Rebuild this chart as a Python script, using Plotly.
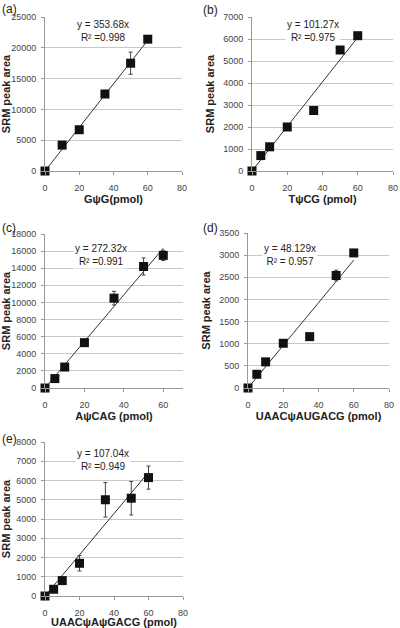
import plotly.graph_objects as go

# ---- data ----
panel_labels = ["(a)", "(b)", "(c)", "(d)", "(e)"]
x_titles = ["GψG(pmol)", "TψCG (pmol)", "AψCAG (pmol)", "UAACψAUGACG (pmol)", "UAACψAψGACG (pmol)"]
eq_texts = ["y = 353.68x<br>R² =0.998", "y = 101.27x<br>R² =0.975", "y = 272.32x<br>R² =0.991",
            "y = 48.129x<br>R² = 0.957", "y = 107.04x<br>R² =0.949"]
slopes = [353.68, 101.27, 272.32, 48.129, 107.04]

x_a = [0, 10, 20, 35, 50, 60]
y_a = [0, 4200, 6700, 12500, 17500, 21400]
e_a = [0, 0, 0, 0, 1800, 0]

x_b = [0, 5, 10, 20, 35, 50, 60]
y_b = [0, 700, 1100, 2000, 2750, 5500, 6150]
e_b = [0, 0, 0, 0, 0, 0, 0]

x_c = [0, 5, 10, 20, 35, 50, 60]
y_c = [0, 1100, 2450, 5300, 10500, 14200, 15500]
e_c = [0, 0, 0, 0, 800, 1000, 600]

x_d = [0, 5, 10, 20, 35, 50, 60]
y_d = [0, 310, 590, 1010, 1160, 2540, 3050]
e_d = [0, 0, 0, 0, 70, 120, 50]

x_e = [0, 5, 10, 20, 35, 50, 60]
y_e = [0, 350, 800, 1700, 5000, 5080, 6150]
e_e = [0, 0, 0, 400, 900, 870, 600]

xs = [x_a, x_b, x_c, x_d, x_e]
ys = [y_a, y_b, y_c, y_d, y_e]
es = [e_a, e_b, e_c, e_d, e_e]

y_ranges = [(0, 25000, 5000), (0, 7000, 1000), (0, 18000, 2000), (0, 3500, 500), (0, 8000, 1000)]
x_ranges = [(0, 80), (0, 80), (0, 70), (0, 80), (0, 80)]
fit_end = 60

# ---- layout (pixel boxes in a 400x628 page) ----
W, H = 400, 628
boxes = [(45, 182, 17, 171), (252, 393, 17, 171), (45, 183, 234, 388),
         (248, 389, 233, 388), (45, 183, 442, 596)]
eq_pos = [(103, 31), (313, 31), (101, 255), (290, 255), (103, 460)]
lab_pos = [(0, 0), (201, 1), (0, 219), (201, 219), (0, 430)]

fig = go.Figure()
font = "Liberation Sans, Arial, sans-serif"
layout = dict(width=W, height=H, margin=dict(l=0, r=0, t=0, b=0),
              paper_bgcolor="white", plot_bgcolor="white", showlegend=False,
              font=dict(family=font, color="#333"))
annotations = []
for i in range(5):
    n = "" if i == 0 else str(i + 1)
    x0, x1, y0, y1 = boxes[i]
    xa = "x" + n
    ya = "y" + n
    ymin, ymax, dt = y_ranges[i]
    layout["xaxis" + n] = dict(
        domain=[x0 / W, x1 / W], range=list(x_ranges[i]), dtick=20, anchor=ya, automargin=False,
        showgrid=False, zeroline=False, showline=True, linecolor="#999", linewidth=1,
        ticks="outside", ticklen=3, tickcolor="#999", ticklabelstandoff=5,
        tickfont=dict(size=9, color="#444", family=font),
        title=dict(text="<b>" + x_titles[i] + "</b>", font=dict(size=11, color="#222", family=font), standoff=3))
    layout["yaxis" + n] = dict(
        domain=[1 - y1 / H, 1 - y0 / H], range=[ymin, ymax], dtick=dt, anchor=xa, automargin=False,
        tickformat="d",
        showgrid=True, gridcolor="#c8c8c8", gridwidth=1, zeroline=False,
        showline=True, linecolor="#999", linewidth=1, ticks="outside", ticklen=3, tickcolor="#999",
        ticklabelstandoff=3,
        tickfont=dict(size=9, color="#444", family=font),
        title=dict(text="<b>SRM peak area</b>", font=dict(size=11, color="#222", family=font), standoff=6))
    # trend line
    fig.add_trace(go.Scatter(x=[0, fit_end], y=[0, slopes[i] * fit_end], mode="lines",
                             line=dict(color="#333", width=1), xaxis=xa, yaxis=ya, hoverinfo="skip"))
    # data points
    fig.add_trace(go.Scatter(x=xs[i], y=ys[i], mode="markers",
                             marker=dict(symbol="square", size=9, color="#111"),
                             error_y=dict(type="data", array=es[i], visible=True, color="#444",
                                          thickness=1, width=2),
                             cliponaxis=False, xaxis=xa, yaxis=ya))
    ex, ey = eq_pos[i]
    annotations.append(dict(text=eq_texts[i], x=ex / W, y=1 - ey / H, xref="paper", yref="paper",
                            xanchor="center", yanchor="middle",
                            showarrow=False, bgcolor="white", font=dict(size=10, color="#222", family=font),
                            align="center"))
    lx, ly = lab_pos[i]
    annotations.append(dict(text=panel_labels[i], x=lx / W, y=1 - ly / H, xref="paper", yref="paper",
                            xanchor="left", yanchor="top", showarrow=False,
                            font=dict(size=12, color="#222", family=font)))
layout["annotations"] = annotations
fig.update_layout(**layout)
fig.write_html("out.html", config={"displayModeBar": False},
               post_script="document.body.style.margin='0';")
